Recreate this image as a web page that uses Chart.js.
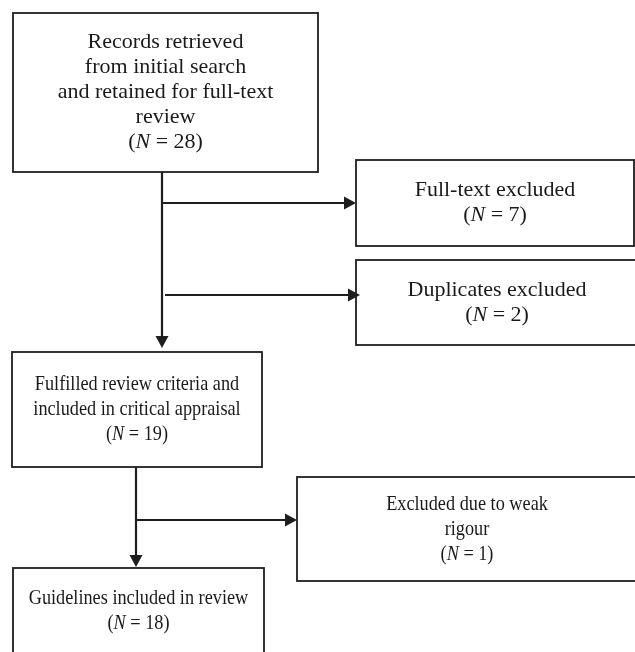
<!DOCTYPE html>
<html>
<head>
<meta charset="utf-8">
<script src="https://cdn.jsdelivr.net/npm/chart.js@4/dist/chart.umd.min.js"></script>
<style>
  html, body { margin: 0; padding: 0; background: #fff; }
  canvas { display: block; }
</style>
</head>
<body>
<canvas id="flow" width="635" height="652"></canvas>
<script>
// flow stages and their counts
const stageText = [
    ["Records retrieved", "from initial search", "and retained for full-text", "review"],
    ["Full-text excluded"],
    ["Duplicates excluded"],
    ["Fulfilled review criteria and", "included in critical appraisal"],
    ["Excluded due to weak", "rigour"],
    ["Guidelines included in review"]
];
const stageN = [28, 7, 2, 19, 1, 18];

// layout (chart units = pixels of the reference)
const boxLeft   = [13, 356, 356, 12, 297, 13];
const boxTop    = [13, 160, 260, 352, 477, 568];
const boxWidth  = [305, 278, 282, 250, 340, 251];
const boxHeight = [159, 86, 85, 115, 104, 86];
const textSqueeze = [1, 1, 1, 0.83, 0.83, 0.83];

// arrows: [x1, y1, x2, y2]
const arrows = [
    [162, 172, 162, 348],
    [162, 203, 356, 203],
    [165, 295, 360, 295],
    [136, 467, 136, 567],
    [137, 520, 297, 520]
];

const ink = '#1e1e1e';
const fontSize = 22;
const lineGap = 25;

function drawN(ctx, cx, cy, n){
    const normal = fontSize + 'px "Liberation Serif", "Times New Roman", serif';
    const italic = 'italic ' + normal;
    const a = '(', b = 'N', c = ' = ' + n + ')';
    ctx.font = normal;
    const wa = ctx.measureText(a).width;
    const wc = ctx.measureText(c).width;
    ctx.font = italic;
    const wb = ctx.measureText(b).width;
    let x = cx - (wa + wb + wc) / 2;
    ctx.textAlign = 'left';
    ctx.font = normal; ctx.fillText(a, x, cy); x += wa;
    ctx.font = italic; ctx.fillText(b, x, cy); x += wb;
    ctx.font = normal; ctx.fillText(c, x, cy);
}

const flowPlugin = {
    id: 'flow',
    afterDatasetsDraw(chart){
        const ctx = chart.ctx;
        const xs = chart.scales.x, ys = chart.scales.y;
        ctx.save();
        ctx.strokeStyle = ink;
        ctx.fillStyle = ink;

        // boxes
        ctx.lineWidth = 1.8;
        for(let i = 0; i < stageText.length; i+=1){
            const x1 = xs.getPixelForValue(boxLeft[i]);
            const x2 = xs.getPixelForValue(boxLeft[i] + boxWidth[i]);
            const y1 = ys.getPixelForValue(boxTop[i]);
            const y2 = ys.getPixelForValue(boxTop[i] + boxHeight[i]);
            ctx.strokeRect(x1, y1, x2 - x1, y2 - y1);

            const lines = stageText[i].length + 1;
            const cx = (x1 + x2) / 2;
            const cy = (y1 + y2) / 2;
            let y = cy - (lines - 1) * lineGap / 2;
            ctx.save();
            ctx.translate(cx, 0);
            ctx.scale(textSqueeze[i], 1);
            ctx.textBaseline = 'middle';
            ctx.fillStyle = '#1a1a1a';
            for(const t of stageText[i]){
                ctx.font = fontSize + 'px "Liberation Serif", "Times New Roman", serif';
                ctx.textAlign = 'center';
                ctx.fillText(t, 0, y);
                y += lineGap;
            }
            drawN(ctx, 0, y, stageN[i]);
            ctx.restore();
        }

        // arrows
        ctx.lineWidth = 2.2;
        for(const a of arrows){
            const x1 = xs.getPixelForValue(a[0]), y1 = ys.getPixelForValue(a[1]);
            const x2 = xs.getPixelForValue(a[2]), y2 = ys.getPixelForValue(a[3]);
            const ang = Math.atan2(y2 - y1, x2 - x1);
            const len = 12, half = 6.5;
            const bx = x2 - len * Math.cos(ang), by = y2 - len * Math.sin(ang);
            ctx.beginPath();
            ctx.moveTo(x1, y1);
            ctx.lineTo(bx, by);
            ctx.stroke();
            ctx.beginPath();
            ctx.moveTo(x2, y2);
            ctx.lineTo(bx - half * Math.sin(ang), by + half * Math.cos(ang));
            ctx.lineTo(bx + half * Math.sin(ang), by - half * Math.cos(ang));
            ctx.closePath();
            ctx.fill();
        }
        ctx.restore();
    }
};

new Chart(document.getElementById('flow').getContext('2d'), {
    type: 'scatter',
    data: {
        datasets: [{
            data: stageN.map((n, i) => ({ x: boxLeft[i] + boxWidth[i] / 2, y: boxTop[i] + boxHeight[i] / 2 })),
            pointRadius: 0
        }]
    },
    options: {
        responsive: false,
        animation: false,
        devicePixelRatio: 1,
        layout: { padding: 0 },
        plugins: { legend: { display: false }, tooltip: { enabled: false } },
        scales: {
            x: { type: 'linear', min: 0, max: 635, display: false },
            y: { type: 'linear', min: 0, max: 652, reverse: true, display: false }
        }
    },
    plugins: [flowPlugin]
});
</script>
</body>
</html>
